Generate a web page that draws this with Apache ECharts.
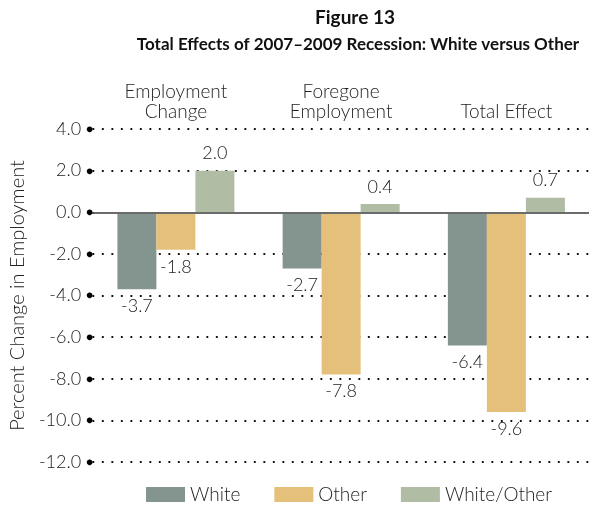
<!DOCTYPE html>
<html><head><meta charset="utf-8">
<script src="https://cdn.jsdelivr.net/npm/echarts@6/dist/echarts.min.js"></script>
<style>html,body{margin:0;padding:0;background:#fff}#c{width:597px;height:508px}</style>
</head><body><div id="c"></div>
<script>
const categories = ['Employment\nChange', 'Foregone\nEmployment', 'Total Effect'];
const whiteVals = [-3.7, -2.7, -6.4];
const otherVals = [-1.8, -7.8, -9.6];
const ratioVals = [2.0, 0.4, 0.7];
const seriesNames = ['White', 'Other', 'White/Other'];
const colors = ['#84948f', '#e5c07a', '#b0bca4'];

const FONT = 'Lato';
function mkData(vals) {
  return vals.map(v => ({ value: v, label: { position: v < 0 ? 'bottom' : 'top' } }));
}
function mkSeries(name, vals, color, withZero) {
  const s = {
    name, type: 'bar', data: mkData(vals), barWidth: 39, barGap: '0%',
    itemStyle: { color },
    label: { show: true, distance: 8, fontFamily: FONT, fontSize: 18, fontWeight: 300, color: '#222',
      formatter: p => p.value.toFixed(1) }
  };
  if (withZero) {
    s.markLine = { silent: true, symbol: 'none', label: { show: false },
      lineStyle: { color: '#6b6b6b', width: 2, type: 'solid' }, data: [{ yAxis: 0 }] };
  }
  return s;
}
const chart = echarts.init(document.getElementById('c'));
const titleStyle = { fontFamily: FONT, fontWeight: 'bold', fontSize: 17, color: '#111' };
chart.setOption({
  animation: false,
  title: [
    { text: 'Figure 13', left: 350, top: 3, textAlign: 'center', textStyle: Object.assign({}, titleStyle, { fontSize: 19 }) },
    { text: 'Total Effects of 2007\u20132009 Recession: White versus Other', left: 353, top: 31, textAlign: 'center', textStyle: titleStyle }
  ],
  grid: { left: 91.5, right: 8, top: 129, bottom: 46, containLabel: false },
  legend: {
    top: 480, left: 141, itemWidth: 39, itemHeight: 15, itemGap: 34, icon: 'rect',
    textStyle: { fontFamily: FONT, fontSize: 19, color: '#222', fontWeight: 300 },
    data: seriesNames
  },
  xAxis: {
    type: 'category', position: 'top', data: categories,
    axisLine: { show: false }, axisTick: { show: false },
    axisLabel: { margin: 7, fontFamily: FONT, fontSize: 19, fontWeight: 300, color: '#222', lineHeight: 20, verticalAlign: 'bottom' }
  },
  yAxis: {
    type: 'value', min: -12, max: 4, interval: 2,
    name: 'Percent Change in Employment', nameLocation: 'middle', nameGap: 59,
    nameTextStyle: { fontFamily: FONT, fontSize: 20, fontWeight: 300, color: '#222' },
    axisLine: { show: false }, axisTick: { show: false },
    axisLabel: { margin: 0, fontFamily: FONT, fontSize: 18, fontWeight: 300, color: '#222',
      formatter: v => v.toFixed(1) + '{d|\u25CF}',
      rich: { d: { fontSize: 12, padding: [0, 0, 0, 5], color: '#000' } } },
    splitLine: { show: true, lineStyle: { color: '#000', width: 2.2, type: [0.1, 9.4], cap: 'round' } }
  },
  series: [
    mkSeries(seriesNames[0], whiteVals, colors[0], true),
    mkSeries(seriesNames[1], otherVals, colors[1], false),
    mkSeries(seriesNames[2], ratioVals, colors[2], false)
  ]
});
</script></body></html>
